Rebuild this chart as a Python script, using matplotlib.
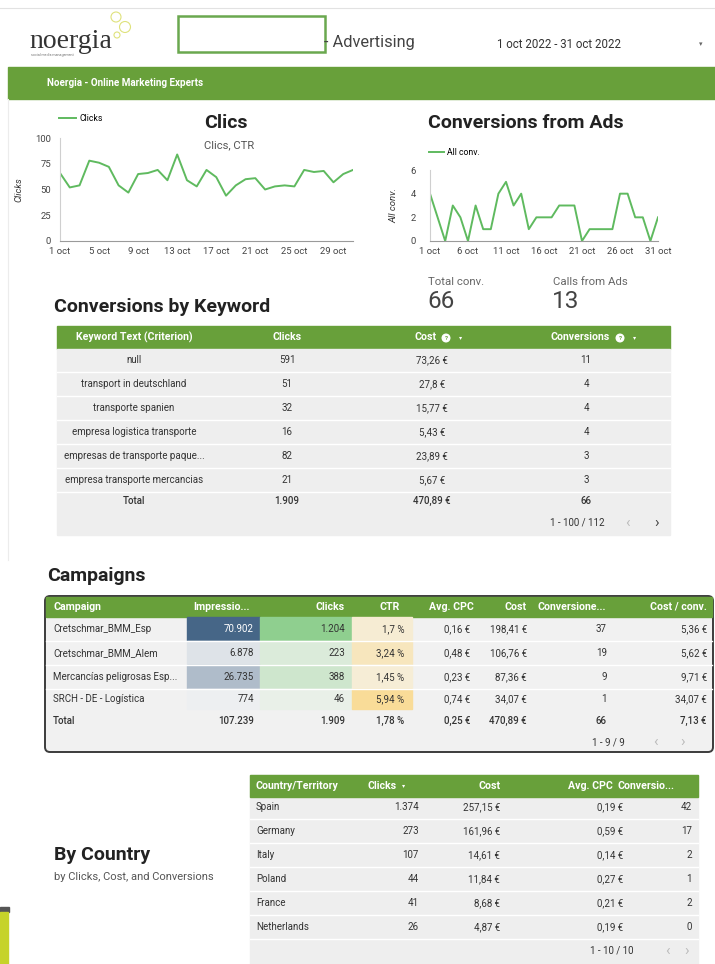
import numpy as np
import matplotlib
matplotlib.use('Agg')
import matplotlib.pyplot as plt
from matplotlib.patches import Rectangle, FancyBboxPatch, Circle
from matplotlib.colors import LinearSegmentedColormap, Normalize

plt.rcParams['font.family'] = ['Roboto', 'DejaVu Sans']

W, H = 715, 964
GREEN = '#68a03a'
LINE = '#5fba5f'
ROWBG = '#eeeeee'
BODY = 7.0
HEAD = 7.6
TITLE = 14

# daily series, october 2022
days = np.arange(1, 32)
clicks_daily = [66, 52, 54, 78, 76, 72, 54, 47, 65, 66, 69, 59, 84, 59, 53, 69,
                62, 44, 54, 60, 61, 50, 53, 54, 53, 69, 67, 68, 57, 65, 69]
conv_daily = [4, 2, 0, 3, 2, 0, 3, 1, 1, 4, 5, 3, 4, 1, 2, 2,
              2, 3, 3, 3, 0, 1, 1, 1, 1, 4, 4, 2, 2, 0, 2]
total_conv = 66
calls_from_ads = 13

# keywords
kw_text = ['null', 'transport in deutschland', 'transporte spanien',
           'empresa logistica transporte', 'empresas de transporte paque...',
           'empresa transporte mercancias']
kw_clicks = [591, 51, 32, 16, 82, 21]
kw_cost = [73.26, 27.8, 15.77, 5.43, 23.89, 5.67]
kw_conv = [11, 4, 4, 4, 3, 3]
kw_total = [1909, 470.89, 66]

# campaigns
camp_names = ['Cretschmar_BMM_Esp', 'Cretschmar_BMM_Alem',
              'Mercancías peligrosas Esp...', 'SRCH - DE - Logística']
camp_impr = [70902, 6878, 26735, 774]
camp_clicks = [1204, 223, 388, 46]
camp_ctr = [1.7, 3.24, 1.45, 5.94]
camp_cpc = [0.16, 0.48, 0.23, 0.74]
camp_cost = [198.41, 106.76, 87.36, 34.07]
camp_conv = [37, 19, 9, 1]
camp_cpa = [5.36, 5.62, 9.71, 34.07]
camp_total = [107239, 1909, 1.78, 0.25, 470.89, 66, 7.13]

# countries
countries = ['Spain', 'Germany', 'Italy', 'Poland', 'France', 'Netherlands']
ctry_clicks = [1374, 273, 107, 44, 41, 26]
ctry_cost = [257.15, 161.96, 14.61, 11.84, 8.68, 4.87]
ctry_cpc = [0.19, 0.59, 0.14, 0.27, 0.21, 0.19]
ctry_conv = [42, 17, 2, 1, 2, 0]


def num(v):
    return f"{v:,}".replace(',', '.')


def dec(v):
    return f"{v:.2f}".rstrip('0').rstrip('.').replace('.', ',')


def eur(v):
    return dec(v) + ' €'


def pct(v):
    return dec(v) + ' %'


def px_rect(x0, y0, x1, y1):
    return [x0 / W, 1 - y1 / H, (x1 - x0) / W, (y1 - y0) / H]


fig = plt.figure(figsize=(W / 100, H / 100), dpi=100)
bg = fig.add_axes([0, 0, 1, 1], zorder=-1)
bg.set_xlim(0, W)
bg.set_ylim(H, 0)
bg.axis('off')


def txt(x, y, s, size=BODY, color='#333333', ha='left', weight='normal', **kw):
    bg.text(x, y, s, fontsize=size, color=color, ha=ha, va='center',
            fontweight=weight, **kw)


def head(x, y, s, ha='left'):
    txt(x, y, s, size=HEAD, color='white', ha=ha, weight='bold')


def info_icon(x, y):
    bg.add_patch(Circle((x, y), 3.8, color='white'))
    bg.text(x, y + 0.3, '?', fontsize=4.5, color=GREEN, ha='center', va='center',
            fontweight='bold')


# ---- page header
bg.plot([0, W], [8, 8], color='#e2e2e2', lw=0.8)
bg.plot([8, 8], [99, 560], color='#ececec', lw=0.8)
txt(29, 42, 'noergia', size=20, color='#333333', family='Liberation Serif')
txt(31, 55, 'social media management', size=2.6, color='#777777')
for cx, cy, r in [(116, 17, 5), (125, 27, 5.5), (117, 35, 3)]:
    bg.add_patch(Circle((cx, cy), r, fill=False, ec='#dfe27c', lw=0.8))
bg.add_patch(Rectangle((178, 16), 147, 36, fill=False, ec='#6aa84f', lw=1.8))
txt(324, 42, '- Advertising', size=11.8, color='#444444')
bg.add_patch(Rectangle((481, 25), 240, 44, color='#e8e8e8'))
bg.add_patch(Rectangle((478, 22), 240, 44, color='white'))
txt(497, 45, '1 oct 2022 - 31 oct 2022', size=8.3, color='#333333')
txt(701, 45, '▾', size=5, color='#666666', ha='center')
bg.add_patch(Rectangle((8, 67), W - 8, 32, color=GREEN))
txt(47, 83, 'Noergia - Online Marketing Experts', size=7.1, color='white', weight='bold')


# ---- line charts
def style_axis(ax, ypad):
    ax.set_facecolor('none')
    for s in ['top', 'right']:
        ax.spines[s].set_visible(False)
    ax.spines['left'].set_color('#cfcfcf')
    ax.spines['bottom'].set_color('#9a9a9a')
    ax.tick_params(length=0, labelsize=6.8, colors='#444444')
    ax.tick_params(axis='y', pad=ypad)
    ax.tick_params(axis='x', pad=4.5)


ax1 = fig.add_axes(px_rect(60, 138, 353, 241))
ax1.plot(days, clicks_daily, color=LINE, lw=1.4, label='Clicks')
ax1.set_xlim(1, 31)
ax1.set_ylim(0, 100)
ax1.set_yticks([0, 25, 50, 75, 100])
ax1.set_xticks(days[::4])
ax1.set_xticklabels([f'{d} oct' for d in days[::4]])
style_axis(ax1, 6.5)
ax1.set_ylabel('Clicks', fontsize=6.8, style='italic', color='#333333')
ax1.yaxis.set_label_coords(-0.125, 0.5)
ax1.legend(loc='center left', bbox_to_anchor=(-0.005, 1.19), frameon=False, fontsize=6.3,
           handlelength=2.0, borderaxespad=0, borderpad=0, handletextpad=0.4)
txt(204, 123, 'Clics', size=TITLE, color='#222222', weight='bold')
txt(204, 145, 'Clics, CTR', size=8.1, color='#555555')

ax2 = fig.add_axes(px_rect(430, 170, 658, 241))
ax2.plot(days, conv_daily, color=LINE, lw=1.4, label='All conv.')
ax2.set_xlim(1, 31)
ax2.set_ylim(0, 6)
ax2.set_yticks([0, 2, 4, 6])
ax2.set_xticks(days[::5])
ax2.set_xticklabels([f'{d} oct' for d in days[::5]])
style_axis(ax2, 10)
ax2.set_ylabel('All conv.', fontsize=6.8, style='italic', color='#333333')
ax2.yaxis.set_label_coords(-0.14, 0.5)
ax2.legend(loc='center left', bbox_to_anchor=(-0.005, 1.25), frameon=False, fontsize=6.3,
           handlelength=1.7, borderaxespad=0, borderpad=0, handletextpad=0.4)
txt(428, 123, 'Conversions from Ads', size=TITLE, color='#222222', weight='bold')

# scorecards
txt(428, 282, 'Total conv.', size=8.2, color='#666666')
txt(427, 302, str(total_conv), size=17.5, color='#444444')
txt(553, 282, 'Calls from Ads', size=8.2, color='#666666')
txt(552, 302, str(calls_from_ads), size=17.5, color='#444444')

# ---- keyword table
txt(54, 307, 'Conversions by Keyword', size=TITLE, color='#222222', weight='bold')
bg.add_patch(Rectangle((57, 326), 613, 23, color=GREEN))
bg.add_patch(Rectangle((57, 349), 613, 186, color=ROWBG))
hy = 337.5
head(134, hy, 'Keyword Text (Criterion)', ha='center')
head(287, hy, 'Clicks', ha='center')
head(437, hy, 'Cost', ha='right')
info_icon(446, hy + 0.5)
txt(461, hy, '▾', size=4.5, color='white', ha='center')
head(610, hy, 'Conversions', ha='right')
info_icon(620, hy + 0.5)
txt(635, hy, '▾', size=4.5, color='white', ha='center')
for i in range(len(kw_text)):
    y = 360 + 24 * i
    txt(134, y, kw_text[i], ha='center')
    txt(287, y, num(kw_clicks[i]), ha='center')
    txt(432, y, eur(kw_cost[i]), ha='center')
    txt(586, y, str(kw_conv[i]), ha='center')
    bg.plot([57, 670], [y + 12, y + 12], color='white', lw=1)
txt(134, 501, 'Total', ha='center', weight='medium')
txt(287, 501, num(kw_total[0]), ha='center', weight='medium')
txt(432, 501, eur(kw_total[1]), ha='center', weight='medium')
txt(586, 501, str(kw_total[2]), ha='center', weight='medium')
txt(605, 523, '1 - 100 / 112', ha='right')
txt(628, 523, '‹', size=11, color='#bbbbbb', ha='center')
txt(657, 523, '›', size=11, color='#444444', ha='center')

# ---- campaign table
txt(47, 576, 'Campaigns', size=TITLE, color='#222222', weight='bold')
bg.add_patch(FancyBboxPatch((45, 596), 668, 156, boxstyle='round,pad=0,rounding_size=5',
                            fc='#f1f1f1', ec='#3c3c3c', lw=1.4))
bg.add_patch(Rectangle((46, 597), 666, 20, color=GREEN))
hy = 606.5
head(53, hy, 'Campaign')
head(193, hy, 'Impressio...')
head(345, hy, 'Clicks', ha='right')
head(400, hy, 'CTR', ha='right')
head(474, hy, 'Avg. CPC', ha='right')
head(527, hy, 'Cost', ha='right')
head(537, hy, 'Conversione...')
head(707, hy, 'Cost / conv.', ha='right')

cm_impr = LinearSegmentedColormap.from_list('impr', ['#eef0f2', '#466687'])
cm_clk = LinearSegmentedColormap.from_list('clk', ['#ecf1eb', '#8fcf8f'])
cm_ctr = LinearSegmentedColormap.from_list('ctr', ['#f5f2ea', '#f9dc98'])
n_impr = Normalize(0, max(camp_impr))
n_clk = Normalize(0, max(camp_clicks))
n_ctr = Normalize(0, max(camp_ctr))
for i in range(len(camp_names)):
    top = 617 + 24 * i
    h = 24 if i < len(camp_names) - 1 else 20
    bg.add_patch(Rectangle((187, top), 73, h, color=cm_impr(n_impr(camp_impr[i]))))
    bg.add_patch(Rectangle((260, top), 92, h, color=cm_clk(n_clk(camp_clicks[i]))))
    bg.add_patch(Rectangle((352, top), 60, h, color=cm_ctr(n_ctr(camp_ctr[i]))))
    if i > 0:
        bg.plot([46, 712], [top, top], color='white', lw=1, zorder=3)
    y = top + h / 2
    txt(53, y, camp_names[i])
    tc = 'white' if n_impr(camp_impr[i]) > 0.6 else '#333333'
    txt(254, y, num(camp_impr[i]), ha='right', color=tc)
    txt(345, y, num(camp_clicks[i]), ha='right')
    txt(404, y, pct(camp_ctr[i]), ha='right')
    txt(470, y, eur(camp_cpc[i]), ha='right')
    txt(527, y, eur(camp_cost[i]), ha='right')
    txt(607, y, str(camp_conv[i]), ha='right')
    txt(707, y, eur(camp_cpa[i]), ha='right')
ty = 721
txt(53, ty, 'Total', weight='medium')
txt(254, ty, num(camp_total[0]), ha='right', weight='medium')
txt(345, ty, num(camp_total[1]), ha='right', weight='medium')
txt(404, ty, pct(camp_total[2]), ha='right', weight='medium')
txt(470, ty, eur(camp_total[3]), ha='right', weight='medium')
txt(527, ty, eur(camp_total[4]), ha='right', weight='medium')
txt(607, ty, str(camp_total[5]), ha='right', weight='medium')
txt(707, ty, eur(camp_total[6]), ha='right', weight='medium')
txt(625, 742, '1 - 9 / 9', ha='right')
txt(655, 742, '‹', size=11, color='#bbbbbb', ha='center')
txt(683, 742, '›', size=11, color='#bbbbbb', ha='center')

# ---- country table
txt(54, 855, 'By Country', size=TITLE, color='#222222', weight='bold')
txt(54, 877, 'by Clicks, Cost, and Conversions', size=8.0, color='#555555')
bg.add_patch(Rectangle((250, 775), 448, 189, color=ROWBG))
bg.add_patch(Rectangle((250, 775), 448, 22, color=GREEN))
hy = 786
head(256, hy, 'Country/Territory')
head(367, hy, 'Clicks')
txt(404, hy, '▾', size=4.5, color='white', ha='center')
head(490, hy, 'Cost', ha='center')
head(613, hy, 'Avg. CPC', ha='right')
head(618, hy, 'Conversio...')
for i in range(len(countries)):
    y = 807 + 24 * i
    txt(256, y, countries[i])
    txt(419, y, num(ctry_clicks[i]), ha='right')
    txt(500, y, eur(ctry_cost[i]), ha='right')
    txt(623, y, eur(ctry_cpc[i]), ha='right')
    txt(692, y, str(ctry_conv[i]), ha='right')
    bg.plot([250, 698], [y + 12, y + 12], color='white', lw=1)
txt(634, 951, '1 - 10 / 10', ha='right')
txt(667, 951, '‹', size=11, color='#bbbbbb', ha='center')
txt(687, 951, '›', size=11, color='#bbbbbb', ha='center')

# decorations bottom left
bg.add_patch(Rectangle((0, 907), 9, 5, color='#555555'))
bg.add_patch(Rectangle((0, 912), 8, 52, color='#c6d32a'))

fig.savefig('out.png', dpi=100)
